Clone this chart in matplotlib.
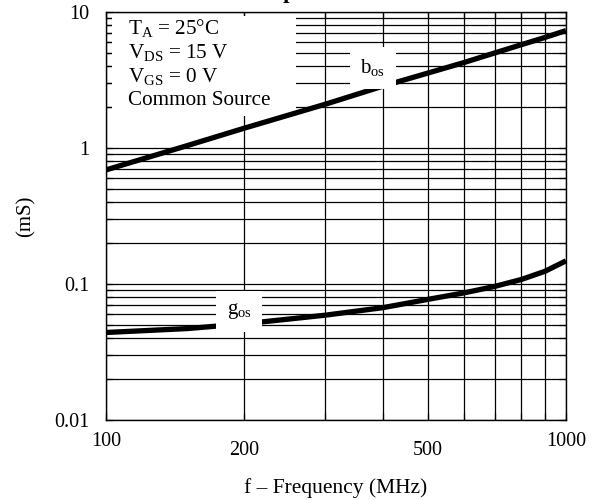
import matplotlib
matplotlib.use("Agg")
import matplotlib.pyplot as plt
import matplotlib.transforms as mtransforms
from matplotlib.patches import Rectangle
from matplotlib.ticker import NullFormatter, LogLocator, FixedLocator

plt.rcParams['font.family'] = ['Liberation Serif', 'DejaVu Serif']
plt.rcParams['mathtext.fontset'] = 'custom'
plt.rcParams['mathtext.rm'] = 'Liberation Serif'
plt.rcParams['mathtext.it'] = 'Liberation Serif:italic'

# data
freq = [100, 150, 200, 300, 400, 500, 600, 700, 800, 900, 1000]
bos = [0.69, 1.04, 1.40, 2.10, 2.85, 3.55, 4.25, 5.0, 5.75, 6.5, 7.3]
gos = [0.044, 0.047, 0.051, 0.059, 0.067, 0.077, 0.086, 0.096, 0.108, 0.124, 0.148]

xticks = [100, 200, 500, 1000]
xtick_labels = ['100', '200', '500', '1000']
xminor = [300, 400, 600, 700, 800, 900]
yticks = [0.01, 0.1, 1, 10]
ytick_labels = ['0.01', '0.1', '1', '10']

conditions = ['T$_\\mathrm{A}$ = 25°C', 'V$_\\mathrm{DS}$ = 15 V',
              'V$_\\mathrm{GS}$ = 0 V', 'Common Source']

fig = plt.figure(figsize=(5.92, 5.0), dpi=100)
ax = fig.add_axes([106/592, 1-420/500, 460/592, 408/500])

ax.set_xscale('log')
ax.set_yscale('log')
ax.set_xlim(100, 1000)
ax.set_ylim(0.01, 10)

ax.plot(freq, bos, color='black', lw=3.8, solid_capstyle='butt', zorder=4)
ax.plot(freq, gos, color='black', lw=3.8, solid_capstyle='butt', zorder=4)

ax.xaxis.set_major_locator(FixedLocator(xticks))
ax.xaxis.set_minor_locator(FixedLocator(xminor))
ax.set_xticklabels(xtick_labels)
ax.xaxis.set_minor_formatter(NullFormatter())
ax.yaxis.set_major_locator(FixedLocator(yticks))
ax.yaxis.set_minor_locator(LogLocator(base=10, subs=range(2, 10)))
ax.set_yticklabels(ytick_labels)
ax.yaxis.set_minor_formatter(NullFormatter())

ax.grid(True, which='both', color='black', lw=0.9)
ax.tick_params(which='both', direction='in', top=True, right=True,
               length=5, width=0.9, labelsize=14.5)
ax.tick_params(axis='x', pad=9)
ax.tick_params(axis='y', pad=12)
for sp in ax.spines.values():
    sp.set_linewidth(1.0)

# 200 and 500 sit lower than the end labels
offset = mtransforms.ScaledTranslation(0, -6/72, fig.dpi_scale_trans)
for lbl in ax.get_xticklabels():
    if lbl.get_text() in ('200', '500'):
        lbl.set_transform(lbl.get_transform() + offset)

# white box with the test conditions
ax.add_patch(Rectangle((0.013, 0.745), 0.40, 0.245, transform=ax.transAxes,
                       facecolor='white', edgecolor='none', zorder=3))
for i, s in enumerate(conditions):
    ax.text(0.048, 0.96 - i * 0.059, s, transform=ax.transAxes,
            fontsize=15.2, va='center', ha='left', zorder=5)

ax.text(380, 3.9, 'b$_\\mathrm{os}$', fontsize=15, ha='center', va='center', zorder=5,
        bbox=dict(boxstyle='square,pad=0.5', facecolor='white', edgecolor='none'))
ax.text(195, 0.063, 'g$_\\mathrm{os}$', fontsize=15, ha='center', va='center', zorder=5,
        bbox=dict(boxstyle='square,pad=0.5', facecolor='white', edgecolor='none'))

ax.set_ylabel('(mS)', fontsize=15, labelpad=13)
ax.set_xlabel('f – Frequency (MHz)', fontsize=15.5, labelpad=13)

# title cut off by the top edge
fig.text(246/592, 1 + 2/500, 'Output Admittance', fontsize=16, fontweight='bold',
         ha='left', va='baseline')

fig.savefig('out.png', dpi=100)
